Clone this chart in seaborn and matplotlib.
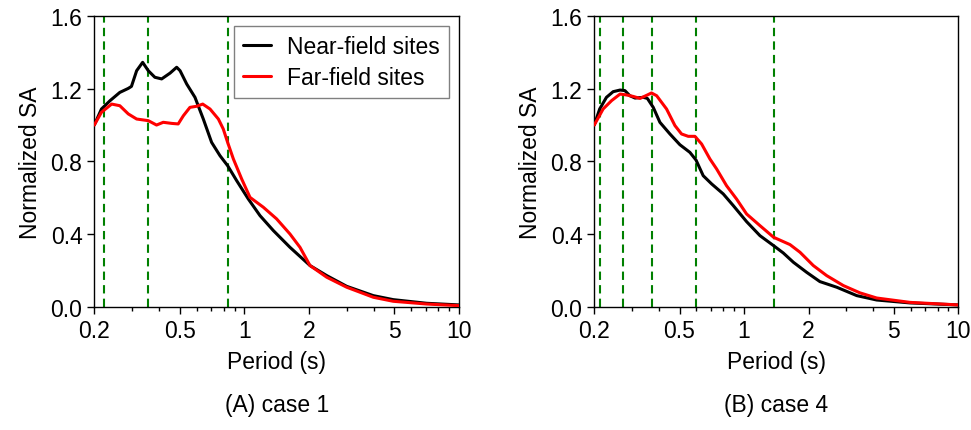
import matplotlib
matplotlib.use("Agg")
import matplotlib.pyplot as plt
from matplotlib.ticker import NullFormatter, LogLocator
import seaborn as sns

# --- data (period in s, normalized SA) ---
case1_near_T = [0.2, 0.216, 0.237, 0.263, 0.288, 0.298, 0.315, 0.336, 0.357, 0.383, 0.412,
                0.451, 0.484, 0.502, 0.539, 0.589, 0.644, 0.704, 0.770, 0.836, 0.921,
                1.044, 1.183, 1.365, 1.632, 2.023, 2.42, 3.0, 3.99, 4.94, 7.07, 10.0]
case1_near_SA = [1.0, 1.088, 1.134, 1.179, 1.201, 1.212, 1.298, 1.344, 1.298, 1.262, 1.253,
                 1.285, 1.317, 1.298, 1.225, 1.152, 1.033, 0.905, 0.832, 0.777, 0.695,
                 0.594, 0.503, 0.421, 0.329, 0.229, 0.174, 0.115, 0.064, 0.042, 0.022, 0.013]

case1_far_T = [0.2, 0.216, 0.241, 0.263, 0.288, 0.315, 0.357, 0.390, 0.419, 0.459, 0.492,
               0.520, 0.558, 0.600, 0.640, 0.692, 0.757, 0.798, 0.836, 0.889, 0.972,
               1.063, 1.226, 1.414, 1.632, 1.817, 2.023, 2.42, 3.0, 3.99, 4.94, 7.07, 10.0]
case1_far_SA = [1.0, 1.07, 1.115, 1.106, 1.061, 1.033, 1.024, 1.0, 1.015, 1.009, 1.006,
                1.051, 1.097, 1.103, 1.115, 1.088, 1.033, 0.978, 0.905, 0.814, 0.704,
                0.603, 0.549, 0.485, 0.402, 0.329, 0.229, 0.165, 0.110, 0.055, 0.033, 0.018, 0.009]

case4_near_T = [0.2, 0.212, 0.228, 0.245, 0.264, 0.278, 0.293, 0.310, 0.339, 0.354, 0.377,
                0.405, 0.451, 0.502, 0.559, 0.597, 0.645, 0.706, 0.800, 0.891, 1.028,
                1.187, 1.375, 1.525, 1.70, 1.96, 2.26, 2.71, 3.36, 4.16, 5.95, 10.0]
case4_near_SA = [1.0, 1.088, 1.152, 1.183, 1.192, 1.189, 1.161, 1.148, 1.152, 1.146, 1.097,
                 1.015, 0.951, 0.892, 0.850, 0.808, 0.722, 0.677, 0.622, 0.558, 0.470,
                 0.393, 0.338, 0.298, 0.247, 0.192, 0.141, 0.110, 0.064, 0.040, 0.024, 0.013]

case4_far_T = [0.2, 0.220, 0.241, 0.264, 0.283, 0.304, 0.327, 0.354, 0.370, 0.391, 0.435,
               0.476, 0.511, 0.549, 0.590, 0.634, 0.693, 0.745, 0.829, 0.923, 1.028,
               1.187, 1.375, 1.639, 1.825, 2.106, 2.43, 2.91, 3.48, 4.16, 5.95, 10.0]
case4_far_SA = [1.0, 1.088, 1.134, 1.170, 1.165, 1.157, 1.146, 1.165, 1.176, 1.161, 1.088,
                0.997, 0.951, 0.938, 0.938, 0.896, 0.814, 0.759, 0.667, 0.594, 0.512,
                0.448, 0.384, 0.344, 0.302, 0.229, 0.174, 0.119, 0.079, 0.051, 0.027, 0.013]

# dominant periods marked with dashed green lines
case1_marks = [0.223, 0.357, 0.837]
case4_marks = [0.212, 0.271, 0.373, 0.597, 1.376]

x_ticks = [0.2, 0.5, 1, 2, 5, 10]
x_tick_labels = ["0.2", "0.5", "1", "2", "5", "10"]
y_ticks = [0.0, 0.4, 0.8, 1.2, 1.6]

sns.set_style("ticks")
plt.rcParams["font.family"] = ["Liberation Sans", "DejaVu Sans"]
plt.rcParams["text.color"] = "black"
plt.rcParams["axes.labelcolor"] = "black"
plt.rcParams["xtick.color"] = "black"
plt.rcParams["ytick.color"] = "black"
FS = 16.5


def draw_panel(ax, near_T, near_SA, far_T, far_SA, marks, legend):
    for m in marks:
        ax.axvline(m, color="#008000", ls=(0, (4, 2.5)), lw=1.5, zorder=1)
    sns.lineplot(x=near_T, y=near_SA, ax=ax, color="black", lw=2.2,
                 label="Near-field sites" if legend else None, zorder=3)
    sns.lineplot(x=far_T, y=far_SA, ax=ax, color="red", lw=2.2,
                 label="Far-field sites" if legend else None, zorder=3)
    ax.set_xscale("log")
    ax.set_xlim(0.2, 10)
    ax.set_ylim(0, 1.6)
    ax.set_xticks(x_ticks)
    ax.set_xticklabels(x_tick_labels)
    ax.xaxis.set_minor_locator(LogLocator(base=10, subs=range(2, 10)))
    ax.xaxis.set_minor_formatter(NullFormatter())
    ax.set_yticks(y_ticks)
    ax.set_yticklabels([f"{v:.1f}" for v in y_ticks])
    ax.tick_params(axis="both", which="major", direction="out", length=5,
                   width=1, labelsize=FS, colors="black")
    ax.tick_params(axis="x", which="minor", direction="out", length=3, width=1)
    for s in ax.spines.values():
        s.set_visible(True)
        s.set_color("black")
        s.set_linewidth(1.0)
    ax.set_xlabel("Period (s)", fontsize=FS, labelpad=6)
    ax.set_ylabel("Normalized SA", fontsize=FS, labelpad=6)
    if legend:
        ax.legend(loc="upper right", fontsize=FS, frameon=True, fancybox=False,
                  edgecolor="#808080", framealpha=1, handlelength=1.2,
                  handletextpad=0.7, borderaxespad=0.45, borderpad=0.4,
                  labelspacing=0.35)
    else:
        leg = ax.get_legend()
        if leg is not None:
            leg.remove()


fig = plt.figure(figsize=(9.71, 4.31), dpi=100)
ax1 = fig.add_axes([0.0971, 0.2847, 0.3756, 0.6766])
ax2 = fig.add_axes([0.6120, 0.2847, 0.3749, 0.6766])

draw_panel(ax1, case1_near_T, case1_near_SA, case1_far_T, case1_far_SA, case1_marks, True)
draw_panel(ax2, case4_near_T, case4_near_SA, case4_far_T, case4_far_SA, case4_marks, False)

fig.text(0.0971 + 0.3756 / 2, 0.06, "(A) case 1", ha="center", va="center",
         fontsize=FS, color="black")
fig.text(0.6120 + 0.3749 / 2, 0.06, "(B) case 4", ha="center", va="center",
         fontsize=FS, color="black")

fig.savefig("out.png", dpi=100)
